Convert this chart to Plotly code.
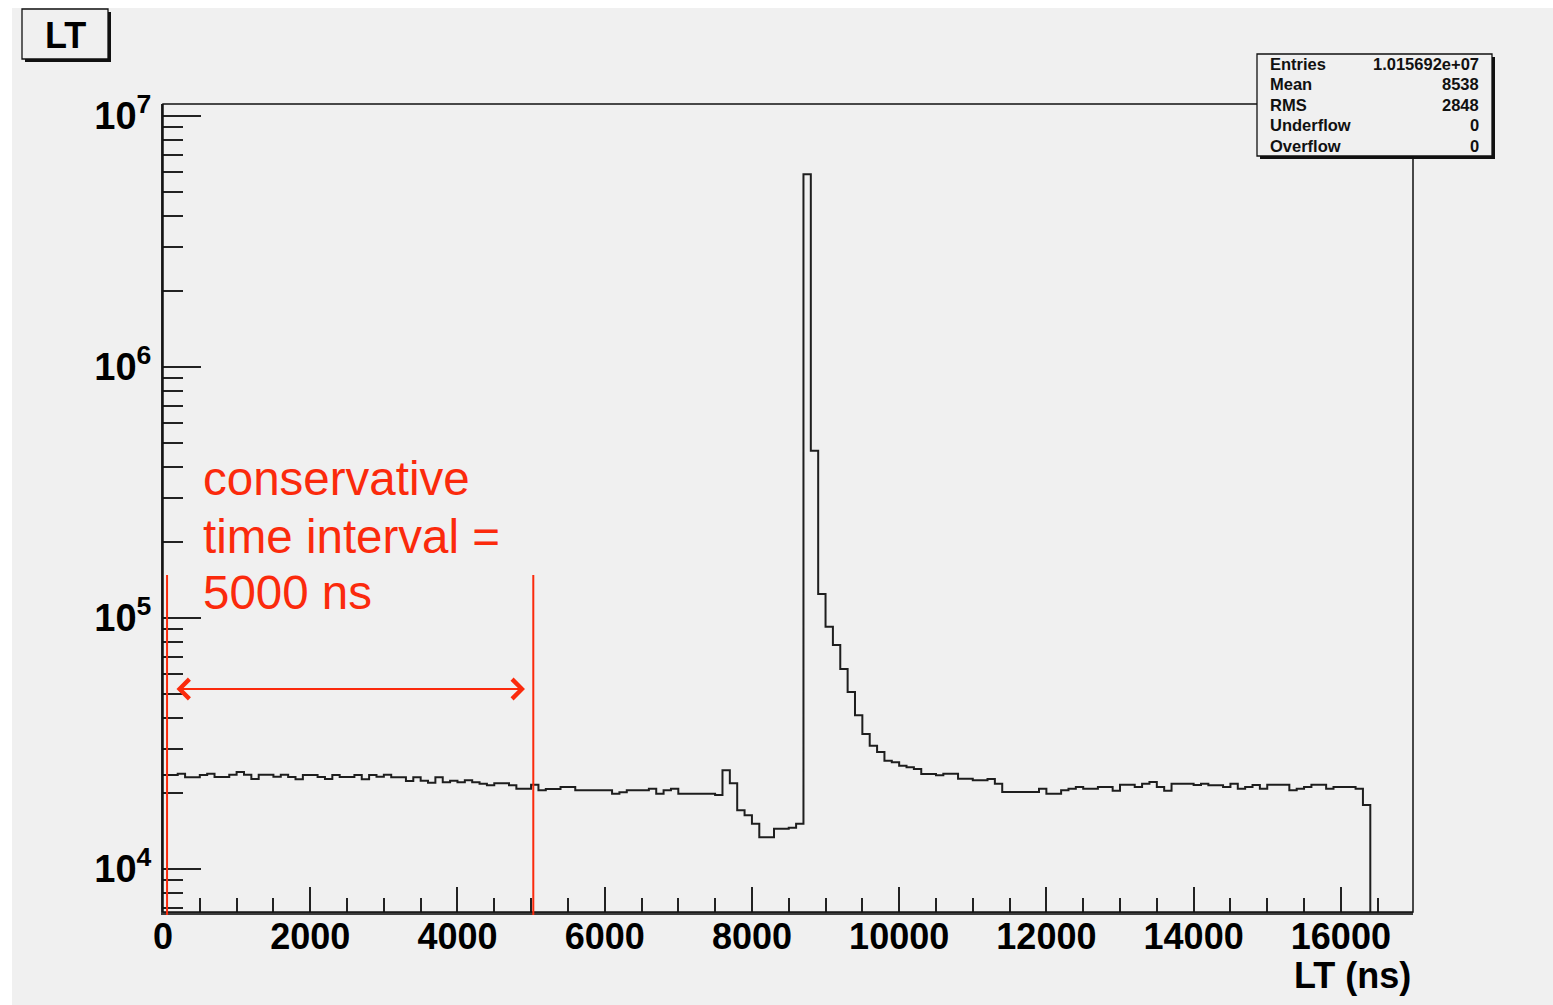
import plotly.graph_objects as go

# ---- histogram contents: LT (ns), 100 ns bins from 0 to 16400 ----
bin_width_ns = 100
lt_counts = [
    23680, 23680, 23970, 23190, 23190, 23680, 23970, 23250, 23250, 23750,
    24350, 23750, 22830, 23750, 23750, 23320, 23750, 23250, 22770, 23680,
    23680, 23250, 22830, 23680, 23250, 23250, 23680, 22770, 23680, 23320,
    23750, 23190, 23190, 22410, 23190, 22480, 22070, 23190, 22150, 22480,
    22150, 22560, 22150, 21860, 21550, 21940, 21940, 21550, 20880, 20880,
    21670, 20580, 20830, 20830, 21210, 21210, 20580, 20580, 20580, 20580,
    20580, 19950, 20210, 20580, 20580, 20580, 20880, 19950, 20580, 20880,
    19950, 19950, 19950, 19950, 19950, 19710, 24730, 21940, 17130, 16370,
    15150, 13380, 13380, 14470, 14470, 14600, 15150, 5860000, 464000, 124600,
    92300, 78060, 62640, 50730, 40960, 34500, 30990, 29250, 27010, 26610,
    25800, 25420, 25030, 23900, 23900, 23620, 23970, 23970, 22890, 22890,
    22560, 22560, 22830, 21860, 20260, 20260, 20260, 20260, 20260, 20880,
    19950, 19950, 20580, 20880, 21210, 20880, 20880, 21210, 21210, 20510,
    21670, 21670, 21210, 21860, 22210, 21210, 20510, 21860, 21860, 21860,
    21610, 21860, 21550, 21550, 21210, 21860, 20880, 21210, 21610, 20880,
    21670, 21670, 21670, 20580, 20880, 21210, 21670, 21670, 20880, 21210,
    21210, 21210, 20880, 17990,
]
bin_edges = [i * bin_width_ns for i in range(len(lt_counts) + 1)]

# statistics box
stat_names = ["Entries", "Mean", "RMS", "Underflow", "Overflow"]
stat_values = ["1.015692e+07", "8538", "2848", "0", "0"]

# axis ticks
x_tick_vals = [0, 2000, 4000, 6000, 8000, 10000, 12000, 14000, 16000]
y_decades = [4, 5, 6, 7]
interval_ns = [55, 5030]   # marked window, roughly 0 - 5000 ns

# ---- page geometry (pixels) ----
W, H = 1553, 1005
L, R, T, B = 163, 1413, 104, 912


def px(xp):
    return (xp - L) / (R - L)


def py(yp):
    return (B - yp) / (B - T)


BG = "#f0f0f0"
RED = "#fb2a0c"
FONT = "Liberation Sans, Arial, Helvetica, sans-serif"

fig = go.Figure()

# step histogram (drop to the floor after the last filled bin)
fig.add_trace(go.Scatter(
    x=bin_edges,
    y=lt_counts + [1],
    mode="lines",
    line=dict(shape="hv", color="#1e1e1e", width=2),
    hoverinfo="skip",
    showlegend=False,
))

y_major = [10 ** d for d in y_decades]
y_minor = [k * 10 ** d for d in [3] + y_decades[:-1] for k in range(2, 10)]

fig.update_layout(
    width=W, height=H,
    margin=dict(l=L, r=W - R, t=T, b=H - B, pad=0),
    paper_bgcolor="white",
    plot_bgcolor=BG,
    font=dict(family=FONT, color="black"),
    showlegend=False,
    xaxis=dict(
        range=[0, 16980],
        showgrid=False, zeroline=False,
        showline=True, linecolor="#3a3a3a", linewidth=3,
        ticks="inside", ticklen=25, tickwidth=2, tickcolor="#222",
        tickmode="array", tickvals=x_tick_vals,
        ticktext=[str(v) for v in x_tick_vals],
        tickfont=dict(size=36, family=FONT, weight="bold", color="black"),
        ticklabelstandoff=-9,
        minor=dict(ticks="inside", ticklen=14, tickwidth=2, tickcolor="#222",
                   dtick=500, tick0=0, showgrid=False),
    ),
    yaxis=dict(
        type="log",
        range=[3.8287, 7.0478],
        showgrid=False, zeroline=False,
        showline=True, linecolor="#222", linewidth=2,
        ticks="inside", ticklen=38, tickwidth=2, tickcolor="#222",
        tickmode="array", tickvals=y_major,
        ticktext=[f"10<sup>{d}</sup>" for d in y_decades],
        tickfont=dict(size=38, family=FONT, weight="bold", color="black"),
        ticklabelstandoff=2,
        minor=dict(ticks="inside", ticklen=20, tickwidth=2, tickcolor="#222",
                   tickmode="array", tickvals=y_minor, showgrid=False),
    ),
)

shapes = []
# grey canvas behind everything
shapes.append(dict(type="rect", xref="paper", yref="paper", layer="below",
                   x0=px(12), x1=px(W + 5), y0=py(H + 5), y1=py(8),
                   fillcolor=BG, line=dict(width=0)))
# frame around the pad
shapes.append(dict(type="rect", xref="paper", yref="paper",
                   x0=0, x1=1, y0=0, y1=1,
                   line=dict(color="#111", width=1.5)))

# marked interval: vertical red lines
for xv in interval_ns:
    shapes.append(dict(type="line", xref="x", yref="paper",
                       x0=xv, x1=xv, y0=py(915), y1=py(575),
                       line=dict(color=RED, width=2)))


def boxed(x0, x1, y0, y1, shadow=3):
    out = [dict(type="rect", xref="paper", yref="paper",
                x0=px(x0 + shadow), x1=px(x1 + shadow),
                y0=py(y1 + shadow), y1=py(y0 + shadow),
                fillcolor="#111", line=dict(width=0)),
           dict(type="rect", xref="paper", yref="paper",
                x0=px(x0), x1=px(x1), y0=py(y1), y1=py(y0),
                fillcolor=BG, line=dict(color="#111", width=1.3))]
    return out


shapes += boxed(22, 108, 9, 59)        # title box
shapes += boxed(1257, 1492, 54, 156)   # statistics box
fig.update_layout(shapes=shapes)

ann = []
# title
ann.append(dict(text="<b>LT</b>", xref="paper", yref="paper",
                x=px(65), y=py(36), xanchor="center", yanchor="middle",
                showarrow=False, font=dict(size=36, family=FONT, color="black")))

# statistics rows
row_y = [64, 84.5, 105, 125, 146]
for name, val, yy in zip(stat_names, stat_values, row_y):
    ann.append(dict(text=f"<b>{name}</b>", xref="paper", yref="paper",
                    x=px(1268), y=py(yy), xanchor="left", yanchor="middle",
                    showarrow=False,
                    font=dict(size=16.5, family=FONT, color="#111")))
    ann.append(dict(text=f"<b>{val}</b>", xref="paper", yref="paper",
                    x=px(1481), y=py(yy), xanchor="right", yanchor="middle",
                    showarrow=False,
                    font=dict(size=16.5, family=FONT, color="#111")))

# x-axis title
ann.append(dict(text="<b>LT (ns)</b>", xref="paper", yref="paper",
                x=1.0, y=py(975), xanchor="right", yanchor="middle",
                showarrow=False, font=dict(size=36, family=FONT, color="black")))

# red label
for line_txt, yy in zip(["conservative", "time interval =", "5000 ns"],
                        [478, 536, 592]):
    ann.append(dict(text=line_txt, xref="paper", yref="paper",
                    x=px(201), y=py(yy), xanchor="left", yanchor="middle",
                    showarrow=False,
                    font=dict(size=47.5, family=FONT, color=RED)))

# double-headed arrow spanning the interval
ann.append(dict(text="", xref="x", yref="paper",
                x=4917, y=py(689), axref="x", ax=163, ayref="pixel", ay=0,
                showarrow=True, arrowside="end+start",
                arrowhead=4, startarrowhead=4,
                arrowsize=1.9, startarrowsize=1.9, arrowwidth=2,
                arrowcolor=RED, standoff=0, startstandoff=0))

fig.update_layout(annotations=ann)

fig.write_html("out.html")
